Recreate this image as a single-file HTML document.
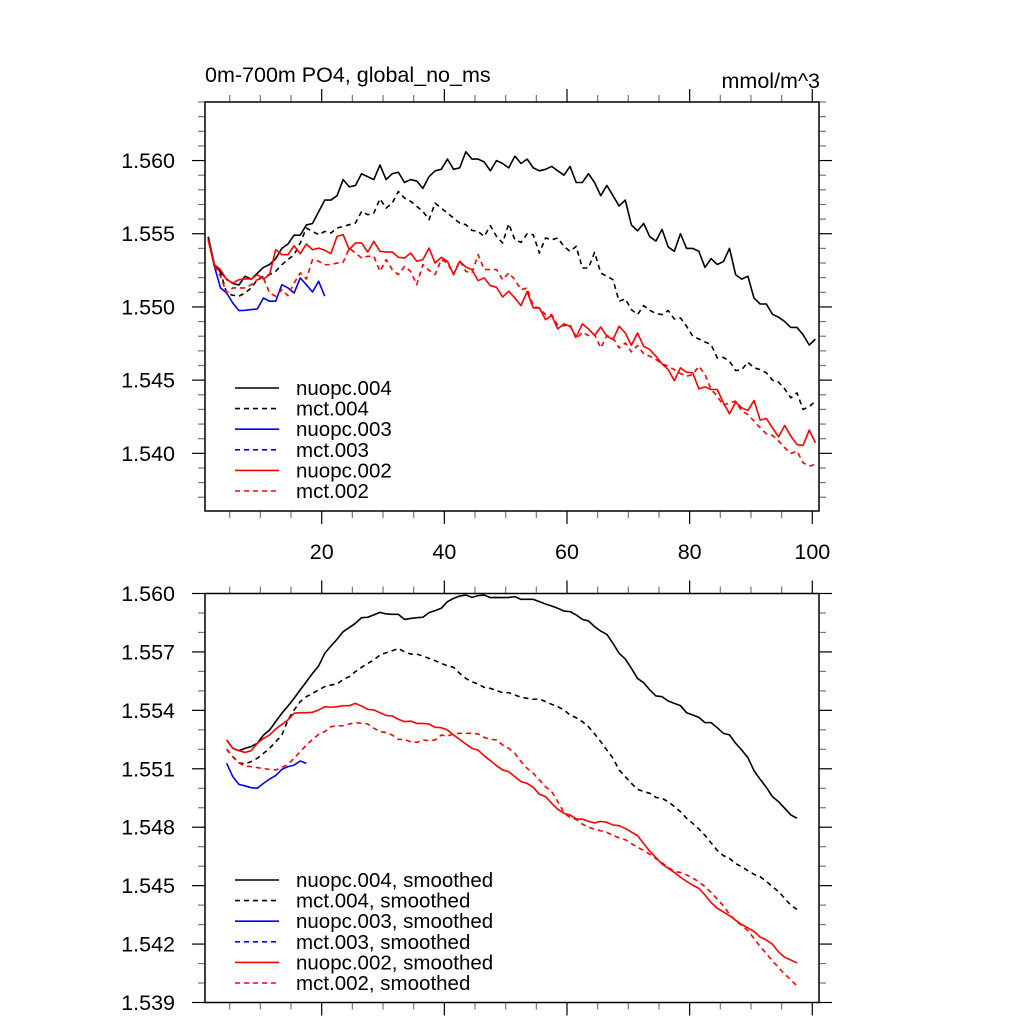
<!DOCTYPE html>
<html><head><meta charset="utf-8"><style>
html,body{margin:0;padding:0;background:#fff;}
svg text{font-family:"Liberation Sans",sans-serif;}
</style></head><body>
<svg id="chart" width="1024" height="1024" viewBox="0 0 1024 1024" xmlns="http://www.w3.org/2000/svg"></svg>
<script>
const topNuopc004=[1.5548,1.5529,1.5524,1.5519,1.5516,1.5515,1.5521,1.5519,1.5523,1.5527,1.5529,1.5533,1.5540,1.5543,1.5549,1.5549,1.5556,1.5557,1.5565,1.5573,1.5573,1.5576,1.5587,1.5582,1.5583,1.5591,1.5589,1.5587,1.5597,1.5587,1.5591,1.5592,1.5585,1.5587,1.5586,1.5581,1.5589,1.5593,1.5594,1.5601,1.5594,1.5595,1.5606,1.5601,1.5601,1.5599,1.5593,1.5600,1.5598,1.5595,
1.5603,1.5598,1.5601,1.5595,1.5593,1.5594,1.5596,1.5593,1.5590,1.5596,1.5585,1.5585,1.5591,1.5585,1.5576,1.5583,1.5576,1.5569,1.5573,1.5556,1.5552,1.5557,1.5548,1.5545,1.5553,1.5541,1.5538,1.5550,1.5540,1.5540,1.5538,1.5527,1.5533,1.5529,1.5531,1.5540,1.5522,1.5519,1.5521,1.5506,1.5502,1.5502,1.5495,1.5493,1.5490,1.5486,1.5486,1.5481,1.5474,1.5478];
const topMct004=[1.55471,1.55277,1.55236,1.55095,1.5508,1.55073,1.55095,1.5513,1.55186,1.55209,1.55221,1.55243,1.55289,1.55323,1.55357,1.55437,1.55539,1.55516,1.55493,1.55516,1.55505,1.55539,1.5555,1.55562,1.55573,1.55653,1.5563,1.55641,1.55739,1.55675,1.55709,1.55789,1.55744,1.55721,1.55687,1.55653,1.55596,1.55709,1.55675,1.55641,1.55607,1.55573,1.55562,1.55523,1.55516,1.55482,1.55555,1.55482,1.55437,1.55568,
1.55459,1.55441,1.555,1.55493,1.55368,1.55471,1.55459,1.55471,1.55414,1.5538,1.55414,1.55266,1.55266,1.55373,1.55232,1.55209,1.55186,1.55039,1.55055,1.54982,1.54948,1.55009,1.54977,1.54955,1.54948,1.54975,1.54918,
1.54925,1.54868,1.548,1.54781,1.54761,1.54743,1.54652,1.54656,1.54629,1.54565,1.54572,1.54622,1.54584,1.54572,1.5455,1.545,1.54486,1.5444,1.54379,1.54413,1.543,1.54318,1.54357];
const topNuopc003=[1.55459,1.55277,1.5513,1.55095,1.55027,1.54975,1.54977,1.54982,1.54986,1.55061,1.55039,1.55039,1.55152,1.5513,1.55095,1.55198,1.55152,1.55102,1.55175,1.55073];
const topMct003=[];
const topNuopc002=[1.55459,1.55289,1.55255,1.55186,1.55164,1.55186,1.55191,1.55191,1.55221,1.55191,1.55221,1.55391,1.55357,1.55357,1.55418,1.55364,1.5543,1.55391,1.55402,1.55387,1.55364,1.55482,1.55493,1.55391,1.55437,1.55437,1.55375,1.55448,1.5538,1.55375,1.55375,1.55339,1.55334,1.55368,1.55312,1.55323,1.55402,1.553,1.55339,1.55312,1.55221,1.55312,1.55273,1.55255,1.5518,1.55198,1.55146,1.55134,1.55068,1.55107,
1.55061,1.55009,1.55105,
1.54993,1.54993,1.54913,1.54941,1.5485,1.54884,1.54868,1.54795,1.54884,1.5485,1.54806,1.54863,1.548,1.54777,1.54868,1.54822,1.54738,1.54822,1.54731,1.54709,1.54663,1.54611,1.54572,1.54497,1.54584,1.54554,1.5455,1.5444,1.54454,1.54436,1.54436,1.54345,1.5427,1.54349,1.54311,1.54293,1.54361,1.54227,1.54238,1.54174,1.54113,1.5419,1.54117,1.5406,1.54054,1.54159,1.54072];
const topMct002=[1.55459,1.55277,1.55209,1.55095,1.5513,1.5513,1.5513,1.55152,1.55186,1.55198,1.55095,1.55073,1.55118,1.55077,1.55164,1.55232,1.55191,1.55323,1.55312,1.55289,1.55289,1.553,1.55305,1.55402,1.55368,1.55334,1.55346,1.55346,1.55243,1.55323,1.55255,1.55221,1.55277,1.55243,1.55152,1.55289,1.5525,1.55221,1.55323,1.553,1.55221,1.55318,1.55243,1.55232,1.55357,1.55255,1.55255,1.55255,1.55186,1.55232,
1.55186,1.55118,1.5513,
1.55004,1.54993,1.54947,1.54947,1.54872,1.54872,1.54879,1.54781,1.54827,1.54804,1.54811,1.5472,1.54804,1.54788,1.5472,1.54754,1.54693,1.54736,1.54681,1.54663,1.54641,1.54611,1.54595,1.54572,1.54545,1.54527,1.54538,1.54595,1.54538,1.54436,1.5439,1.54327,1.54345,1.54356,1.54288,1.54265,1.5422,1.54174,1.54134,1.54122,1.54084,1.54038,1.53999,1.54015,1.53936,1.53913,1.53924];
const botNuopc004=[1.55248,1.55205,1.55193,1.55205,1.55214,1.55231,1.55273,1.55299,1.55342,1.55385,1.55422,1.55462,1.55505,1.55547,1.5559,1.55628,1.55693,1.5573,1.55765,1.55804,1.55825,1.55847,1.55876,1.55878,1.5589,1.55903,1.55895,1.55893,1.55893,1.55867,1.55872,1.55876,1.55878,1.55902,1.55912,1.55924,1.55958,1.55975,1.55987,1.55992,1.5598,1.55989,1.55992,1.55979,1.5598,1.55979,1.5598,1.55984,1.5597,
1.5597,1.5597,1.55958,1.55946,1.55936,1.55924,1.5591,1.55907,1.5589,1.55867,1.55859,1.5583,1.55807,1.5579,1.55744,1.55693,1.55664,1.55616,1.55564,1.55542,1.55505,1.55474,1.5547,1.55448,1.55436,1.55424,1.55388,1.55376,1.55364,1.55337,1.55337,1.55311,1.55282,1.55274,1.55231,1.55196,1.55157,1.5509,1.55046,1.55005,1.54957,1.54931,1.54897,1.54863,1.54846];
const botMct004=[1.552,1.55162,1.55131,1.55125,1.55137,1.55154,1.55179,1.55205,1.55239,1.55273,1.55351,1.55402,1.55445,1.5547,1.55487,1.55505,1.55522,1.5553,1.55535,1.55559,1.55573,1.55599,1.55621,1.55641,1.55659,1.55684,1.55696,1.55706,1.55718,1.55701,1.55689,1.55689,1.55679,1.55667,1.55655,1.55641,1.55629,1.55621,1.5559,1.55564,1.55547,1.55535,1.55518,1.55513,1.55501,1.55491,1.55491,1.55479,1.55467,
1.55462,1.55457,1.55458,1.55445,1.55431,1.55419,1.55402,1.55376,1.55362,1.55342,1.55316,1.55279,1.55239,1.55196,1.55154,1.55094,1.5506,1.55025,1.54995,1.54983,1.54974,1.54953,1.54948,1.54931,1.54906,1.5488,1.54846,1.5482,1.54791,1.54758,1.54719,1.54681,1.54654,1.5464,1.54613,1.54597,1.54577,1.54558,1.54546,1.54522,1.54495,1.54469,1.54435,1.54399,1.54378];
const botNuopc003=[1.55128,1.5506,1.5502,1.55012,1.55003,1.55,1.55025,1.55047,1.55065,1.55097,1.55111,1.55119,1.5514,1.55128];
const botMct003=[];
const botNuopc002=[1.55248,1.55205,1.55193,1.55184,1.55193,1.55231,1.55256,1.55273,1.55304,1.55328,1.55351,1.55385,1.55388,1.55388,1.5539,1.55402,1.55419,1.55416,1.55419,1.55424,1.55424,1.55436,1.55422,1.55405,1.55402,1.55388,1.55374,1.55371,1.55354,1.55342,1.55345,1.55333,1.55333,1.5533,1.55313,1.55311,1.55299,1.55273,1.55251,1.55227,1.55205,1.55196,1.55166,1.55142,1.55116,1.55094,1.55085,1.5506,1.55034,
1.55025,1.55005,1.54969,1.54957,1.54923,1.54892,1.54871,1.54863,1.54842,1.54842,1.5483,1.54822,1.5483,1.54825,1.54811,1.54808,1.54793,1.54775,1.54757,1.54716,1.54676,1.54644,1.54611,1.54589,1.54568,1.54543,1.54522,1.54502,1.54486,1.54452,1.54413,1.54384,1.54365,1.54346,1.54322,1.543,1.54283,1.54265,1.54236,1.54221,1.54199,1.54159,1.54132,1.54118,1.54103];
const botMct002=[1.552,1.55162,1.55131,1.55114,1.55111,1.55106,1.55101,1.55097,1.55094,1.55107,1.55123,1.55154,1.55188,1.55222,1.55251,1.55277,1.55291,1.55316,1.55321,1.55321,1.5533,1.55337,1.55333,1.5533,1.55308,1.55291,1.55286,1.55273,1.55251,1.55251,1.55239,1.55236,1.55248,1.55244,1.55248,1.55273,1.55268,1.55279,1.55282,1.55282,1.55282,1.55279,1.55261,1.55251,1.55248,1.55222,1.55205,1.55179,1.55137,
1.55102,1.55077,1.55042,1.55008,1.54983,1.54931,1.54875,1.54849,1.5484,1.54815,1.54801,1.54789,1.54782,1.54774,1.54757,1.54746,1.54736,1.54716,1.54697,1.54681,1.54661,1.54639,1.54616,1.54594,1.54572,1.54568,1.54555,1.54539,1.54519,1.54495,1.54464,1.54431,1.54396,1.54353,1.5432,1.54295,1.54269,1.54228,1.54188,1.54151,1.54113,1.54079,1.54046,1.54016,1.53985];
const topStartX=1.5;
const botStartX=4.5;
const xTickLabels=["20","40","60","80","100"];
const xMajorTicks=[20,40,60,80,100];
const topYTicks=[1.540,1.545,1.550,1.555,1.560];
const topYLabels=["1.540","1.545","1.550","1.555","1.560"];
const botYTicks=[1.539,1.542,1.545,1.548,1.551,1.554,1.557,1.560];
const botYLabels=["1.539","1.542","1.545","1.548","1.551","1.554","1.557","1.560"];
const legendTop=["nuopc.004","mct.004","nuopc.003","mct.003","nuopc.002","mct.002"];
const legendBot=["nuopc.004, smoothed","mct.004, smoothed","nuopc.003, smoothed","mct.003, smoothed","nuopc.002, smoothed","mct.002, smoothed"];
const legendColors=["#000","#000","#00f","#00f","#f00","#f00"];
const legendDash=[false,true,false,true,false,true];

const svg=document.getElementById('chart');
const NS='http://www.w3.org/2000/svg';
function mk(tag,attrs,parent){const e=document.createElementNS(NS,tag);for(const k in attrs)e.setAttribute(k,attrs[k]);(parent||svg).appendChild(e);return e;}
const L=205,R=819;
const xs=x=>199.05+6.1325*x;
const panels=[
 {name:'top',T:102,B:511,ymin:1.53606,ymax:1.5640,minorStep:0.001,yt:topYTicks,yl:topYLabels,showX:true,
  series:[topNuopc004,topMct004,topNuopc003,topMct003,topNuopc002,topMct002],x0:topStartX,leg:legendTop,legY:388},
 {name:'bottom',T:593.5,B:1002.5,ymin:1.539,ymax:1.560,minorStep:0.001,yt:botYTicks,yl:botYLabels,showX:false,
  series:[botNuopc004,botMct004,botNuopc003,botMct003,botNuopc002,botMct002],x0:botStartX,leg:legendBot,legY:880}
];
panels.forEach(p=>{
  const g=mk('g',{});
  
  
  const ys=v=>p.B-(v-p.ymin)/(p.ymax-p.ymin)*(p.B-p.T);
  const ax=mk('g',{stroke:'#000','stroke-width':1.2},g);
  
  
  for(let x=5;x<=100;x+=5){
    const X=xs(x);const maj=x%20===0;const len=maj?13:7;
    mk('line',{x1:X,x2:X,y1:p.T,y2:p.T-len,stroke:maj?'#000':'#777'},ax);
    mk('line',{x1:X,x2:X,y1:p.B,y2:p.B+len,stroke:maj?'#000':'#777'},ax);
  }
  const n=Math.round((p.ymax-p.ymin)/p.minorStep)+2;
  const start=Math.ceil(p.ymin/p.minorStep-1e-6)*p.minorStep;
  for(let i=0;i<n;i++){
    const v=start+i*p.minorStep; if(v>p.ymax+1e-9)break;
    const Y=ys(v);const maj=p.yt.some(t=>Math.abs(t-v)<1e-7);const len=maj?13:7;
    mk('line',{x1:L,x2:L-len,y1:Y,y2:Y,stroke:maj?'#000':'#777'},ax);
    mk('line',{x1:R,x2:R+len,y1:Y,y2:Y,stroke:maj?'#000':'#777'},ax);
  }
  const fr=mk('rect',{x:L,y:p.T,width:R-L,height:p.B-p.T,fill:'none',stroke:'#000','stroke-width':1.5},g);
  
  
  p.yt.forEach((t,i)=>{
    const tx=mk('text',{x:175,y:ys(t)+7.5,'text-anchor':'end','font-size':21.5},g);
    
    
    tx.textContent=p.yl[i];
  });
  if(p.showX){
    xMajorTicks.forEach((t,i)=>{
      const tx=mk('text',{x:xs(t),y:559,'text-anchor':'middle','font-size':21.5},g);
      
      
      tx.textContent=xTickLabels[i];
    });
  }
  p.series.forEach((arr,si)=>{
    if(!arr.length)return;
    const d=arr.map((v,i)=>(i?'L':'M')+xs(p.x0+i).toFixed(2)+','+ys(v).toFixed(2)).join('');
    const pa=mk('path',{d:d,fill:'none',stroke:legendColors[si],'stroke-width':1.6,'stroke-linejoin':'round'},g);
    if(legendDash[si])pa.setAttribute('stroke-dasharray','5,4');
    
    
  });
  p.leg.forEach((lab,i)=>{
    const y=p.legY+i*20.6;
    const le=mk('g',{},g);
    
    
    const ln=mk('line',{x1:235,x2:279,y1:y,y2:y,stroke:legendColors[i],'stroke-width':1.6},le);
    if(legendDash[i])ln.setAttribute('stroke-dasharray','5,4');
    const tx=mk('text',{x:296,y:y+7,'font-size':20.5},le);
    tx.textContent=lab;
  });
});
const t1=mk('text',{x:205,y:82,'font-size':21.5});


t1.textContent='0m-700m PO4, global_no_ms';
const t2=mk('text',{x:820,y:88,'font-size':21.5,'text-anchor':'end'});


t2.textContent='mmol/m^3';
</script>
</body></html>
